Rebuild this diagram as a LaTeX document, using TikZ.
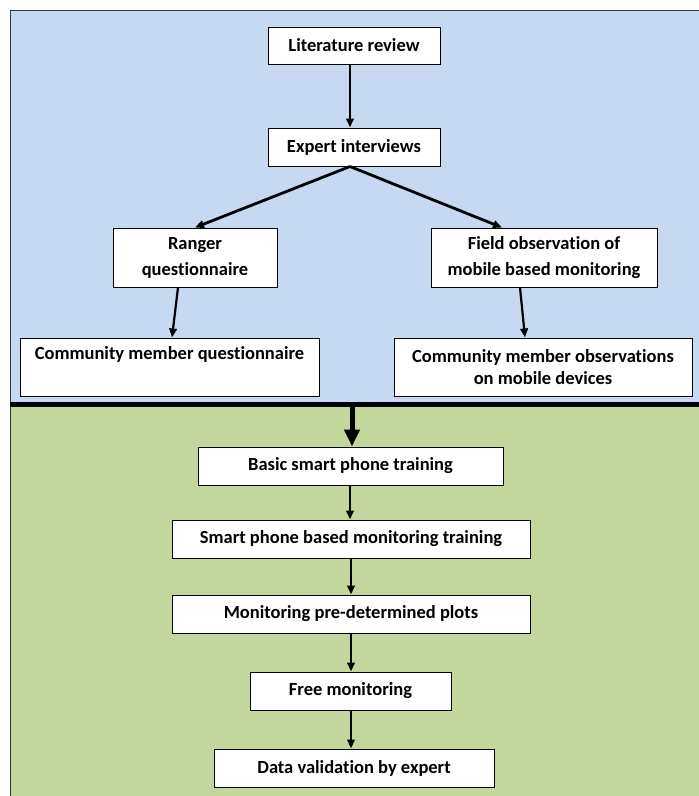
\documentclass[tikz,border=0pt]{standalone}
\usepackage{fontspec}
\setmainfont{Carlito}[Ligatures=CommonOff]
\usetikzlibrary{arrows.meta}
\definecolor{panelblue}{HTML}{C6D9F1}
\definecolor{panelgreen}{HTML}{C3D69B}
\definecolor{panelline}{HTML}{3A3A3A}
\begin{document}
\begin{tikzpicture}[x=1pt,y=-1pt,
  box/.style={draw=black, line width=1pt, fill=white, inner sep=0pt, align=center,
    font=\fontsize{18.5}{22}\selectfont\bfseries},
  flow/.style={-{Triangle[length=9pt,width=7.5pt]}, line width=2.2pt, black},
  bigflow/.style={-{Triangle[length=17pt,width=15pt]}, line width=5pt, black}]
\useasboundingbox (0,0) rectangle (699,796);
% panels
\path[fill=panelblue, draw=panelline, line width=1pt] (10,10) rectangle (704,404);
\path[fill=panelgreen, draw=panelline, line width=1pt] (10,406) rectangle (704,800);
\draw[line width=5pt, black] (10,404.5) -- (699,404.5);
\coordinate (split) at (352,405);
% nodes
\node[box, minimum width=172pt, minimum height=37pt] (lit) at (354,45.5) {Literature review};
\node[box, minimum width=172pt, minimum height=38pt] (exp) at (354,147) {Expert interviews};
\node[box, minimum width=164pt, minimum height=59pt, font=\fontsize{18.5}{26}\selectfont\bfseries] (ranger) at (195,257.5) {Ranger\\questionnaire};
\node[box, minimum width=226pt, minimum height=59pt, font=\fontsize{18.5}{26}\selectfont\bfseries] (field) at (544,257.5) {Field observation of\\mobile based monitoring};
\node[box, minimum width=299pt, minimum height=58pt] (cmq) at (169.5,367) {Community member questionnaire\\\strut};
\node[box, minimum width=298pt, minimum height=58pt] (cmo) at (543,367) {Community member observations\\on mobile devices};
\node[box, minimum width=305pt, minimum height=38pt] (basic) at (350.5,466) {Basic smart phone training};
\node[box, minimum width=358pt, minimum height=38pt] (smart) at (351,539) {Smart phone based monitoring training};
\node[box, minimum width=358pt, minimum height=38pt] (plots) at (351,614) {Monitoring pre-determined plots};
\node[box, minimum width=201pt, minimum height=38pt] (free) at (350.5,691) {Free monitoring};
\node[box, minimum width=280pt, minimum height=38pt] (valid) at (354,768) {Data validation by expert};
% connectors
\draw[flow] (lit.south -| 350,0) -- (exp.north -| 350,0);
\draw[flow, line width=2.8pt] (exp.south -| 350,0) -- (ranger.north -| 195,0);
\draw[flow, line width=2.8pt] (exp.south -| 350,0) -- (field.north -| 502,0);
\draw[flow] (ranger.south -| 178,0) -- (cmq.north -| 172,0);
\draw[flow] (field.south -| 520,0) -- (cmo.north -| 525,0);
\draw[bigflow] (split) -- (basic.north -| 352,0);
\draw[flow] (basic.south -| 350,0) -- (smart.north -| 350,0);
\draw[flow] (smart.south -| 351,0) -- (plots.north -| 351,0);
\draw[flow] (plots.south -| 351,0) -- (free.north -| 351,0);
\draw[flow] (free.south -| 351,0) -- (valid.north -| 351,0);
\end{tikzpicture}
\end{document}
